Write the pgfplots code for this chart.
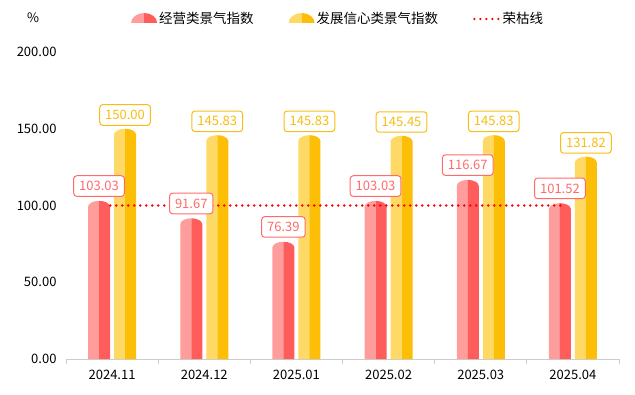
\documentclass[border=0pt]{standalone}
\usepackage{fontspec}
\setmainfont{Noto Sans CJK SC}
\usepackage{pgfplots}
\usepackage{pgfplotstable}
\pgfplotsset{compat=1.18}
\definecolor{redL}{HTML}{FF9C9C}
\definecolor{redD}{HTML}{FF5C5C}
\definecolor{yelL}{HTML}{FFD966}
\definecolor{yelD}{HTML}{FCBE06}
\definecolor{lblR}{HTML}{FF6B6B}
\definecolor{lblY}{HTML}{F8BD12}
\definecolor{axgray}{HTML}{CCCCCC}
\definecolor{dotred}{HTML}{FF0000}

\pgfdeclareplotmark{capR}{%
 \pgfsetfillcolor{redL}%
 \pgfpathmoveto{\pgfpoint{-13pt}{-6.5pt}}%
 \pgfpathlineto{\pgfpoint{-24pt}{-6.5pt}}%
 \pgfpathlineto{\pgfpoint{-24pt}{-6pt}}%
 \pgfpatharc{180}{90}{11pt and 6pt}%
 \pgfpathclose\pgfusepathqfill
 \pgfsetfillcolor{redD}%
 \pgfpathmoveto{\pgfpoint{-13pt}{-6.5pt}}%
 \pgfpathlineto{\pgfpoint{-2pt}{-6.5pt}}%
 \pgfpathlineto{\pgfpoint{-2pt}{-6pt}}%
 \pgfpatharc{0}{90}{11pt and 6pt}%
 \pgfpathclose\pgfusepathqfill}
\pgfdeclareplotmark{capY}{%
 \pgfsetfillcolor{yelL}%
 \pgfpathmoveto{\pgfpoint{13pt}{-6.5pt}}%
 \pgfpathlineto{\pgfpoint{2pt}{-6.5pt}}%
 \pgfpathlineto{\pgfpoint{2pt}{-6pt}}%
 \pgfpatharc{180}{90}{11pt and 6pt}%
 \pgfpathclose\pgfusepathqfill
 \pgfsetfillcolor{yelD}%
 \pgfpathmoveto{\pgfpoint{13pt}{-6.5pt}}%
 \pgfpathlineto{\pgfpoint{24pt}{-6.5pt}}%
 \pgfpathlineto{\pgfpoint{24pt}{-6pt}}%
 \pgfpatharc{0}{90}{11pt and 6pt}%
 \pgfpathclose\pgfusepathqfill}

\pgfplotstableread{
x red yellow
0 103.03 150.00
1 91.67 145.83
2 76.39 145.83
3 103.03 145.45
4 116.67 145.83
5 101.52 131.82
}\data

\begin{document}
\begin{tikzpicture}
\begin{axis}[
  name=ax,
  scale only axis,
  width=553pt, height=307pt,
  xmin=-0.5, xmax=5.5, ymin=0, ymax=200,
  clip=false,
  clip marker paths=true,
  axis x line*=bottom,
  axis y line*=left,
  x axis line style={-, draw=axgray, line width=0.8pt},
  y axis line style={draw=none},
  xtick={0,...,5},
  xticklabels={2024.11,2024.12,2025.01,2025.02,2025.03,2025.04},
  minor xtick={-0.5,0.5,...,5.5},
  major tick length=0pt,
  minor tick length=5pt,
  tick align=outside,
  xtick pos=bottom,
  minor x tick style={draw=axgray, line width=0.8pt},
  ytick={0,50,...,200},
  ytick style={draw=none},
  y tick label style={/pgf/number format/fixed, /pgf/number format/fixed zerofill, /pgf/number format/precision=2},
  /pgf/number format/assume math mode=true,
  ticklabel style={font=\fontsize{13}{13}\selectfont, text=black},
  yticklabel style={xshift=-6pt},
  xticklabel style={yshift=-8pt},
  legend columns=3,
  legend style={draw=none, fill=none, at={(rel axis cs:0.112,1.1075)}, anchor=west,
    font=\fontsize{13.5}{13.5}\selectfont,
    /tikz/every even column/.append style={column sep=33pt}},
  legend cell align=left,
]
% red bars
\addplot[ybar, bar width=11pt, bar shift=-18.5pt, fill=redL, draw=none,
  y filter/.expression={y-3.9},
  legend image code/.code={
    \fill[redL] (0pt,-4pt) arc[start angle=180,end angle=90,x radius=13pt,y radius=10pt] -- (13pt,-4pt) -- cycle;
    \fill[redD] (26pt,-4pt) arc[start angle=0,end angle=90,x radius=13pt,y radius=10pt] -- (13pt,-4pt) -- cycle;
  }] table[x=x,y=red]{\data};
\addlegendentry{经营类景气指数}
\addplot[ybar, bar width=11pt, bar shift=-7.5pt, fill=redD, draw=none, forget plot,
  y filter/.expression={y-3.9}] table[x=x,y=red]{\data};
\addplot[only marks, mark=capR, forget plot] table[x=x,y=red]{\data};
% yellow bars
\addplot[ybar, bar width=11pt, bar shift=7.5pt, fill=yelL, draw=none,
  y filter/.expression={y-3.9},
  legend image code/.code={
    \fill[yelL] (0pt,-4pt) arc[start angle=180,end angle=90,x radius=13pt,y radius=10pt] -- (13pt,-4pt) -- cycle;
    \fill[yelD] (26pt,-4pt) arc[start angle=0,end angle=90,x radius=13pt,y radius=10pt] -- (13pt,-4pt) -- cycle;
  }] table[x=x,y=yellow]{\data};
\addlegendentry{发展信心类景气指数}
\addplot[ybar, bar width=11pt, bar shift=18.5pt, fill=yelD, draw=none, forget plot,
  y filter/.expression={y-3.9}] table[x=x,y=yellow]{\data};
\addplot[only marks, mark=capY, forget plot] table[x=x,y=yellow]{\data};
% line
\addplot[color=dotred, line width=2.6pt, dash pattern=on 0pt off 6pt, line cap=round,
  legend image code/.code={
    \draw[dotred, line width=2.6pt, dash pattern=on 0pt off 6pt, line cap=round] (0pt,0pt) -- (25pt,0pt);
  }] coordinates {(-0.02,100) (4.91,100)};
\addlegendentry{荣枯线}
% labels
\addplot[draw=none, mark=none, forget plot,
  nodes near coords={\pgfmathprintnumber[fixed,fixed zerofill,precision=2]{\pgfplotspointmeta}},
  every node near coord/.style={xshift=-13pt, anchor=south, yshift=4pt, draw=lblR, fill=white,
    text=lblR, rounded corners=3pt, line width=1pt, inner xsep=5.5pt, inner ysep=5.5pt,
    font=\fontsize{13}{13}\selectfont}] table[x=x,y=red]{\data};
\addplot[draw=none, mark=none, forget plot,
  nodes near coords={\pgfmathprintnumber[fixed,fixed zerofill,precision=2]{\pgfplotspointmeta}},
  every node near coord/.style={xshift=13pt, anchor=south, yshift=3pt, draw=lblY, fill=white,
    text=lblY, rounded corners=3pt, line width=1pt, inner xsep=5.5pt, inner ysep=5.5pt,
    font=\fontsize{13}{13}\selectfont}] table[x=x,y=yellow]{\data};
\node[font=\fontsize{13}{13}\selectfont, anchor=center] at (rel axis cs:0,1) [xshift=-33pt, yshift=34pt] {\%};
\end{axis}
\pgfresetboundingbox
\path[use as bounding box] ([xshift=-66pt,yshift=-35pt]ax.south west) rectangle ([xshift=16pt,yshift=52pt]ax.north east);
\end{tikzpicture}
\end{document}
